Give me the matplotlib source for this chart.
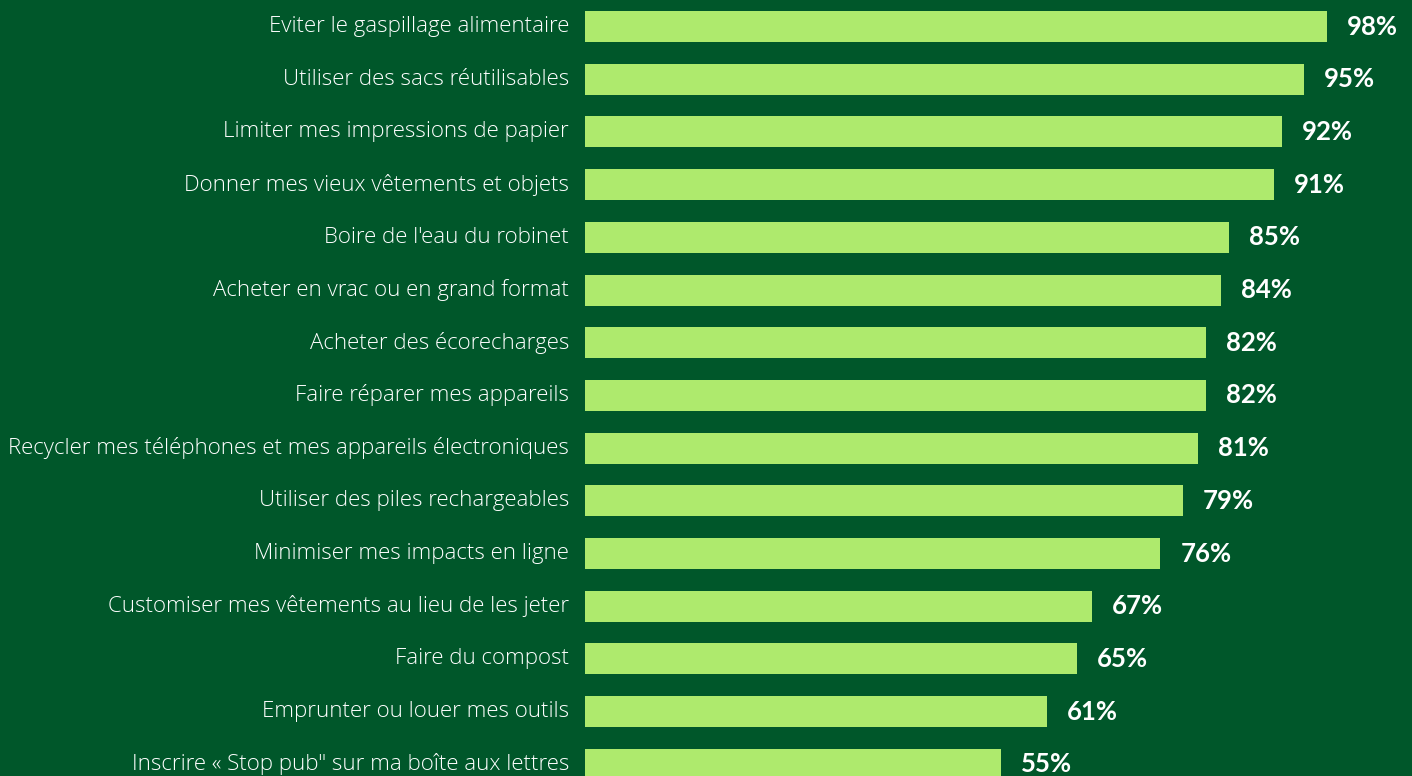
import matplotlib
matplotlib.use("Agg")
import matplotlib.pyplot as plt

categories = [
    "Eviter le gaspillage alimentaire",
    "Utiliser des sacs réutilisables",
    "Limiter mes impressions de papier",
    "Donner mes vieux vêtements et objets",
    "Boire de l'eau du robinet",
    "Acheter en vrac ou en grand format",
    "Acheter des écorecharges",
    "Faire réparer mes appareils",
    "Recycler mes téléphones et mes appareils électroniques",
    "Utiliser des piles rechargeables",
    "Minimiser mes impacts en ligne",
    "Customiser mes vêtements au lieu de les jeter",
    "Faire du compost",
    "Emprunter ou louer mes outils",
    "Inscrire « Stop pub\" sur ma boîte aux lettres",
]
values = [98, 95, 92, 91, 85, 84, 82, 82, 81, 79, 76, 67, 65, 61, 55]

BG = "#00572A"
BAR = "#AEEA6D"

W, H, DPI = 1412, 776, 100
fig = plt.figure(figsize=(W / DPI, H / DPI), dpi=DPI, facecolor=BG)
left = 585 / W
ax = fig.add_axes([left, 0, 1 - left, 1])
ax.set_facecolor(BG)

ypos = list(range(len(categories)))
ax.barh(ypos, values, height=0.588, color=BAR, edgecolor="none")

ax.set_xlim(0, (W - 585) / 7.571)
ax.set_ylim(14.22, -0.503)
ax.axis("off")

for y, v in zip(ypos, values):
    ax.annotate(f"{v}%", xy=(v, y), xytext=(20, 0), textcoords="offset pixels",
                ha="left", va="center", color="white", fontsize=18.5, fontweight="bold",
                family="Lato")
    ax.annotate(categories[y], xy=(0, y), xytext=(-16, 0), textcoords="offset pixels",
                ha="right", va="center", color="white", fontsize=16, family="Open Sans",
                fontweight="light", annotation_clip=False)

fig.savefig("out.png", dpi=DPI, facecolor=BG)
